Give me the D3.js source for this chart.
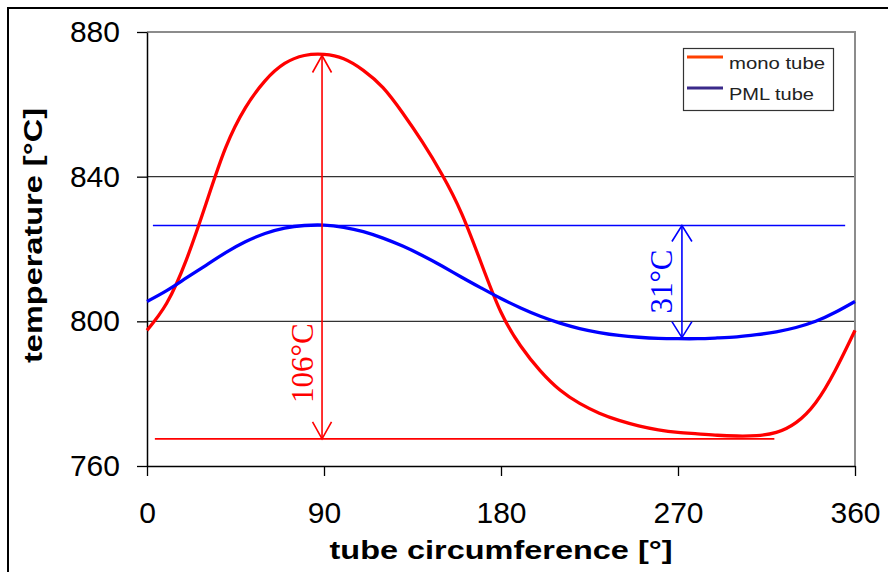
<!DOCTYPE html>
<html>
<head>
<meta charset="utf-8">
<script src="https://cdn.jsdelivr.net/npm/d3@7"></script>
<style>
  html, body { margin: 0; padding: 0; background: #fff; }
  svg { display: block; }
</style>
</head>
<body>
<svg id="chart" width="888" height="572"></svg>
<script>
// Circumferential position around the tube, degrees
const angles = [0, 10, 20, 30, 40, 50, 60, 70, 80, 90, 100, 110, 120, 130, 140, 150, 160, 170, 180,
                190, 200, 210, 220, 230, 240, 250, 260, 270, 280, 290, 300, 310, 320, 330, 340, 350, 360];

// Tube metal temperature, °C
const monoTube = [797.5, 805.0, 817.0, 832.5, 848.0, 859.0, 866.5, 871.3, 873.5, 873.8, 872.6, 869.4, 864.6,
                  857.6, 849.6, 840.6, 829.8, 816.0, 802.5, 793.2, 786.3, 781.0, 777.3, 774.6, 772.6, 771.1,
                  770.0, 769.3, 768.9, 768.5, 768.3, 768.4, 769.3, 772.0, 777.5, 786.5, 797.5];
const pmlTube = [805.5, 808.5, 812.0, 815.5, 819.0, 822.0, 824.3, 825.8, 826.5, 826.6, 826.0, 824.8, 823.0,
                 820.8, 818.2, 815.3, 812.2, 809.2, 806.3, 803.7, 801.4, 799.5, 798.0, 796.9, 796.1, 795.6,
                 795.3, 795.2, 795.2, 795.4, 795.7, 796.3, 797.1, 798.3, 800.0, 802.5, 805.5];

const xTicks = [0, 90, 180, 270, 360];
const yTicks = [760, 800, 840, 880];
const gridValues = [800, 840];

const seriesNames = ["mono tube", "PML tube"];

// Temperature spread markers: reference level, arrow span and label
const monoSpread = { top: 873.5, bottom: 767.5, level: 767.5, at: 89, from: 4, to: 319, label: "106°C" };
const pmlSpread  = { top: 826.5, bottom: 795.5, level: 826.5, at: 272, from: 3, to: 355, label: "31°C" };

const svg = d3.select("#chart");
const plot = { left: 147, right: 855, top: 32, bottom: 466 };

const x = d3.scaleLinear().domain([0, 360]).range([plot.left, plot.right]);
const y = d3.scaleLinear().domain([760, 880]).range([plot.bottom, plot.top]);

const sans = "'Liberation Sans', Arial, sans-serif";
const serif = "'Liberation Serif', 'Times New Roman', serif";

// outer frame
svg.append("rect")
  .attr("x", 8).attr("y", 8).attr("width", 900).attr("height", 600)
  .attr("fill", "none").attr("stroke", "#000").attr("stroke-width", 2);

// horizontal gridlines
svg.append("g").selectAll("line").data(gridValues).join("line")
  .attr("x1", plot.left).attr("x2", plot.right)
  .attr("y1", d => y(d)).attr("y2", d => y(d))
  .attr("stroke", "#333").attr("stroke-width", 1.2);

// plot frame top and right
svg.append("path")
  .attr("d", `M${plot.left},${plot.top}H${plot.right}V${plot.bottom}`)
  .attr("fill", "none").attr("stroke", "#8c8c8c").attr("stroke-width", 2);

// axes
const yAxis = svg.append("g")
  .attr("transform", `translate(${plot.left},0)`)
  .call(d3.axisLeft(y).tickValues(yTicks).tickSize(10).tickSizeOuter(0).tickPadding(17));
const xAxis = svg.append("g")
  .attr("transform", `translate(0,${plot.bottom})`)
  .call(d3.axisBottom(x).tickValues(xTicks).tickSize(10).tickSizeOuter(0).tickPadding(26));

[xAxis, yAxis].forEach(g => {
  g.select(".domain").attr("stroke", "#000").attr("stroke-width", 1.5);
  g.selectAll(".tick line").attr("stroke", "#000").attr("stroke-width", 1.3);
  g.selectAll(".tick text").attr("fill", "#000")
    .style("font-family", sans).style("font-size", "30px");
});

// axis titles
svg.append("text")
  .attr("x", 501).attr("y", 559)
  .attr("text-anchor", "middle")
  .attr("textLength", 343).attr("lengthAdjust", "spacingAndGlyphs")
  .style("font-family", sans).style("font-weight", "bold").style("font-size", "26px")
  .text("tube circumference [°]");

svg.append("text")
  .attr("transform", "translate(42,235.5) rotate(-90)")
  .attr("text-anchor", "middle")
  .attr("textLength", 255).attr("lengthAdjust", "spacingAndGlyphs")
  .style("font-family", sans).style("font-weight", "bold").style("font-size", "25px")
  .text("temperature [°C]");

// spread reference lines
const refs = [
  { s: monoSpread, color: "#ff0000" },
  { s: pmlSpread, color: "#0000ff" }
];
svg.append("g").selectAll("line").data(refs).join("line")
  .attr("x1", d => x(d.s.from)).attr("x2", d => x(d.s.to))
  .attr("y1", d => y(d.s.level)).attr("y2", d => y(d.s.level))
  .attr("stroke", d => d.color).attr("stroke-width", 1.6);

// curves
const line = d3.line()
  .x((d, i) => x(angles[i]))
  .y(d => y(d))
  .curve(d3.curveNatural);

svg.append("path").datum(monoTube)
  .attr("d", line).attr("fill", "none")
  .attr("stroke", "#ff0000").attr("stroke-width", 3.3);
svg.append("path").datum(pmlTube)
  .attr("d", line).attr("fill", "none")
  .attr("stroke", "#0000ff").attr("stroke-width", 3.3);

// double-headed spread arrows
function arrow(s, color, headW, headL) {
  const g = svg.append("g").attr("stroke", color).attr("stroke-width", 1.6).attr("fill", "none");
  const ax = x(s.at), yt = y(s.top), yb = y(s.bottom);
  g.append("line").attr("x1", ax).attr("x2", ax).attr("y1", yt).attr("y2", yb);
  g.append("path").attr("d", `M${ax - headW},${yt + headL}L${ax},${yt}L${ax + headW},${yt + headL}`);
  g.append("path").attr("d", `M${ax - headW},${yb - headL}L${ax},${yb}L${ax + headW},${yb - headL}`);
}
arrow(monoSpread, "#ff0000", 9.5, 17);
arrow(pmlSpread, "#0000ff", 10, 16);

// spread labels
svg.append("text")
  .attr("transform", `translate(${x(monoSpread.at) - 20},${y((monoSpread.top + monoSpread.bottom) / 2) + 116}) rotate(-90)`)
  .attr("text-anchor", "middle").attr("dominant-baseline", "central")
  .attr("fill", "#ff0000")
  .style("font-family", serif).style("font-size", "31px")
  .text(monoSpread.label);
svg.append("text")
  .attr("transform", `translate(${x(pmlSpread.at) - 20},${y((pmlSpread.top + pmlSpread.bottom) / 2)}) rotate(-90)`)
  .attr("text-anchor", "middle").attr("dominant-baseline", "central")
  .attr("fill", "#0000ff")
  .style("font-family", serif).style("font-size", "31px")
  .text(pmlSpread.label);

// legend
const legend = svg.append("g");
legend.append("rect")
  .attr("x", 683.5).attr("y", 48.5).attr("width", 150).attr("height", 62)
  .attr("fill", "#fff").attr("stroke", "#333").attr("stroke-width", 1.2);
const legendColors = ["#ff4000", "#3a2a8a"];
const items = legend.selectAll("g.item").data(seriesNames).join("g")
  .attr("class", "item")
  .attr("transform", (d, i) => `translate(0,${57 + i * 31})`);
items.append("line")
  .attr("x1", 687).attr("x2", 723).attr("y1", 0).attr("y2", 0)
  .attr("stroke", (d, i) => legendColors[i]).attr("stroke-width", 3);
items.append("text")
  .attr("x", 729).attr("y", 12)
  .attr("textLength", (d, i) => i === 0 ? 96 : 85).attr("lengthAdjust", "spacingAndGlyphs")
  .style("font-family", sans).style("font-size", "17px").attr("fill", "#222")
  .text(d => d);
</script>
</body>
</html>
